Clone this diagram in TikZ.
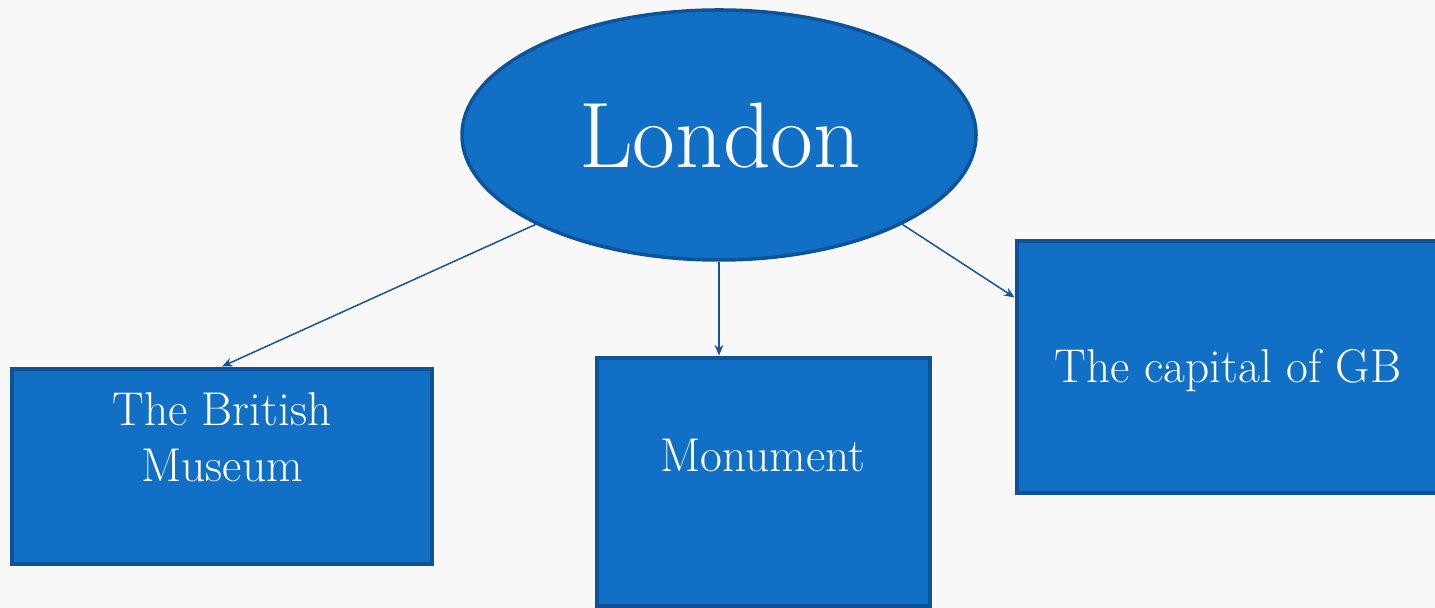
\documentclass[tikz,border=0pt]{standalone}
\usetikzlibrary{shapes.geometric,arrows.meta}

\definecolor{bgpaper}{RGB}{248,248,248}
\definecolor{topicfill}{RGB}{17,111,198}
\definecolor{topicline}{RGB}{14,82,152}
\definecolor{linkline}{RGB}{22,84,154}

\tikzset{
  topic/.style={ellipse,fill=topicfill,draw=topicline,line width=2pt,
    minimum width=10.28cm,minimum height=5cm,inner sep=0pt},
  box/.style={rectangle,fill=topicfill,draw=topicline,line width=2.8pt,inner sep=0pt},
  boxtext/.style={text=white,align=center,font=\fontsize{27}{32}\selectfont},
  link/.style={draw=linkline,line width=0.85pt,-{Stealth[length=6pt,width=5pt]}}
}

\begin{document}
\begin{tikzpicture}
				\fill[bgpaper] (0,0) rectangle (28.7,12.16);
				\clip (0,0) rectangle (28.7,12.16);
				% main topic
				\node [topic] (london) at (14.38,9.46) {};
				\node [text=white,font=\fontsize{53}{60}\selectfont] (londontext) at (14.4,9.44) {London};
				% the three boxes
				\node [box,minimum width=8.4cm,minimum height=3.9cm] (museum) at (4.44,2.83) {};
				\node [boxtext] (museumtext) at (4.44,3.42) {The British\\Museum};
				\node [box,minimum width=6.66cm,minimum height=4.96cm] (monument) at (15.27,2.52) {};
				\node [boxtext] (monumenttext) at (15.26,3.05) {Monument};
				\node [box,minimum width=8.46cm,minimum height=5.04cm] (capital) at (24.57,4.82) {};
				\node [boxtext] (capitaltext) at (24.56,4.76) {The capital of GB};
				% links
				\draw [link] (london.206) -- (museum.north);
				\draw [link] (london.south) -- (london.south |- monument.north);
				\draw [link] (london.334) -- (capital.162);
			\end{tikzpicture}
\end{document}
